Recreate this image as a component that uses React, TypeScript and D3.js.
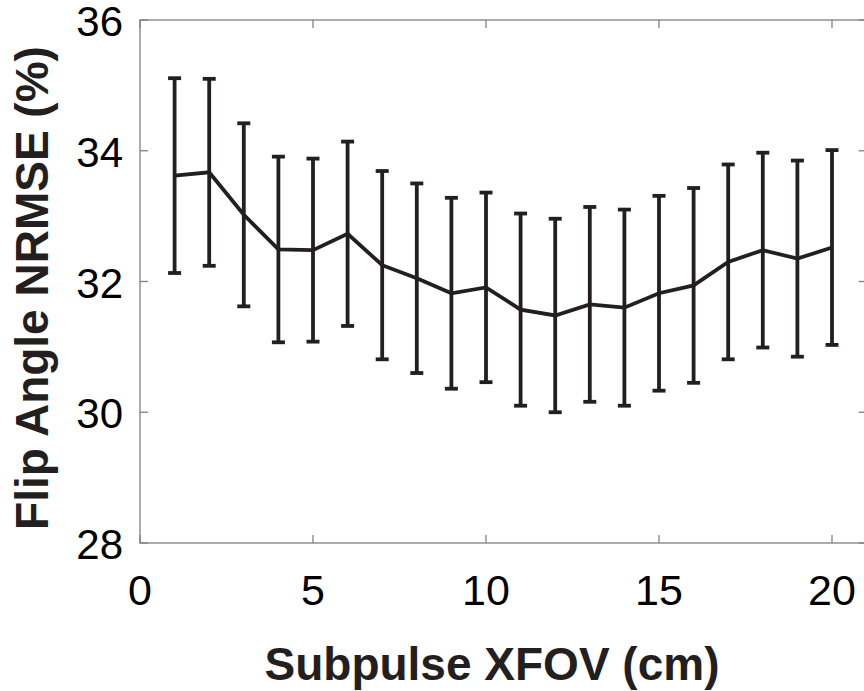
import React, { useEffect, useRef } from "react";
import * as d3 from "d3";

// data
const xfov = [1, 2, 3, 4, 5, 6, 7, 8, 9, 10, 11, 12, 13, 14, 15, 16, 17, 18, 19, 20];
const nrmse = [
  33.62, 33.67, 33.02, 32.49, 32.48, 32.73, 32.25, 32.05, 31.82, 31.91,
  31.57, 31.48, 31.65, 31.6, 31.82, 31.94, 32.3, 32.48, 32.35, 32.52,
];
const nrmseErr = [
  1.49, 1.43, 1.4, 1.42, 1.4, 1.41, 1.44, 1.45, 1.46, 1.45,
  1.47, 1.48, 1.49, 1.5, 1.49, 1.49, 1.49, 1.49, 1.5, 1.49,
];
const xTicks = [0, 5, 10, 15, 20];
const yTicks = [28, 30, 32, 34, 36];

const W = 864;
const H = 691;
const FONT = "'Liberation Sans', Arial, Helvetica, sans-serif";

const App = () => {
  const svgRef = useRef<SVGSVGElement>(null);

  useEffect(() => {
    const svg = d3.select(svgRef.current);
    svg.selectAll("*").remove();

    const left = 140;
    const top = 20;
    const bottom = 543;
    const x = d3.scaleLinear().domain([0, 21]).range([left, left + 21 * 34.6]);
    const y = d3.scaleLinear().domain([28, 36]).range([bottom, top]);
    const right = x(21);

    const axisColor = "#808080";
    const ink = "#231f20";

    // box
    svg
      .append("rect")
      .attr("x", left)
      .attr("y", top)
      .attr("width", right - left)
      .attr("height", bottom - top)
      .attr("fill", "none")
      .attr("stroke", axisColor)
      .attr("stroke-width", 1.3);

    // ticks (inside, on all four sides)
    const tl = 8;
    const g = svg.append("g").attr("stroke", axisColor).attr("stroke-width", 1.3);
    xTicks.forEach((t) => {
      g.append("line").attr("x1", x(t)).attr("x2", x(t)).attr("y1", bottom).attr("y2", bottom - tl);
      g.append("line").attr("x1", x(t)).attr("x2", x(t)).attr("y1", top).attr("y2", top + tl);
    });
    yTicks.forEach((t) => {
      g.append("line").attr("x1", left).attr("x2", left + tl).attr("y1", y(t)).attr("y2", y(t));
      g.append("line").attr("x1", right).attr("x2", right - tl).attr("y1", y(t)).attr("y2", y(t));
    });

    // tick labels
    svg
      .append("g")
      .selectAll("text")
      .data(xTicks)
      .enter()
      .append("text")
      .attr("x", (d) => x(d))
      .attr("y", 605)
      .attr("text-anchor", "middle")
      .attr("font-family", FONT)
      .attr("font-size", 43)
      .attr("fill", "#000")
      .text((d) => d);

    svg
      .append("g")
      .selectAll("text")
      .data(yTicks)
      .enter()
      .append("text")
      .attr("x", 123)
      .attr("y", (d) => y(d) + 16)
      .attr("text-anchor", "end")
      .attr("font-family", FONT)
      .attr("font-size", 42)
      .attr("fill", "#000")
      .text((d) => d);

    // axis titles
    svg
      .append("text")
      .attr("x", 492)
      .attr("y", 680)
      .attr("text-anchor", "middle")
      .attr("font-family", FONT)
      .attr("font-weight", "bold")
      .attr("font-size", 46)
      .attr("fill", ink)
      .text("Subpulse XFOV (cm)");

    svg
      .append("text")
      .attr("transform", `translate(48, 288) rotate(-90)`)
      .attr("text-anchor", "middle")
      .attr("font-family", FONT)
      .attr("font-weight", "bold")
      .attr("font-size", 46)
      .attr("fill", ink)
      .text("Flip Angle NRMSE (%)");

    const pts = xfov.map((v, i) => ({ x: v, m: nrmse[i], e: nrmseErr[i] }));

    // error bars
    const eb = svg.append("g").attr("stroke", ink).attr("stroke-width", 3.8).attr("fill", "none");
    const cap = 6.5;
    pts.forEach((d) => {
      const cx = x(d.x);
      eb.append("line").attr("x1", cx).attr("x2", cx).attr("y1", y(d.m - d.e)).attr("y2", y(d.m + d.e));
      eb.append("line").attr("x1", cx - cap).attr("x2", cx + cap).attr("y1", y(d.m + d.e)).attr("y2", y(d.m + d.e));
      eb.append("line").attr("x1", cx - cap).attr("x2", cx + cap).attr("y1", y(d.m - d.e)).attr("y2", y(d.m - d.e));
    });

    // mean line
    const line = d3
      .line<{ x: number; m: number }>()
      .x((d) => x(d.x))
      .y((d) => y(d.m));
    svg
      .append("path")
      .datum(pts)
      .attr("d", line)
      .attr("fill", "none")
      .attr("stroke", ink)
      .attr("stroke-width", 3.8)
      .attr("stroke-linejoin", "miter");
  }, []);

  return (
    <svg
      ref={svgRef}
      width={W}
      height={H}
      style={{ position: "absolute", left: 0, top: 0, background: "#fff" }}
    />
  );
};

export default App;
